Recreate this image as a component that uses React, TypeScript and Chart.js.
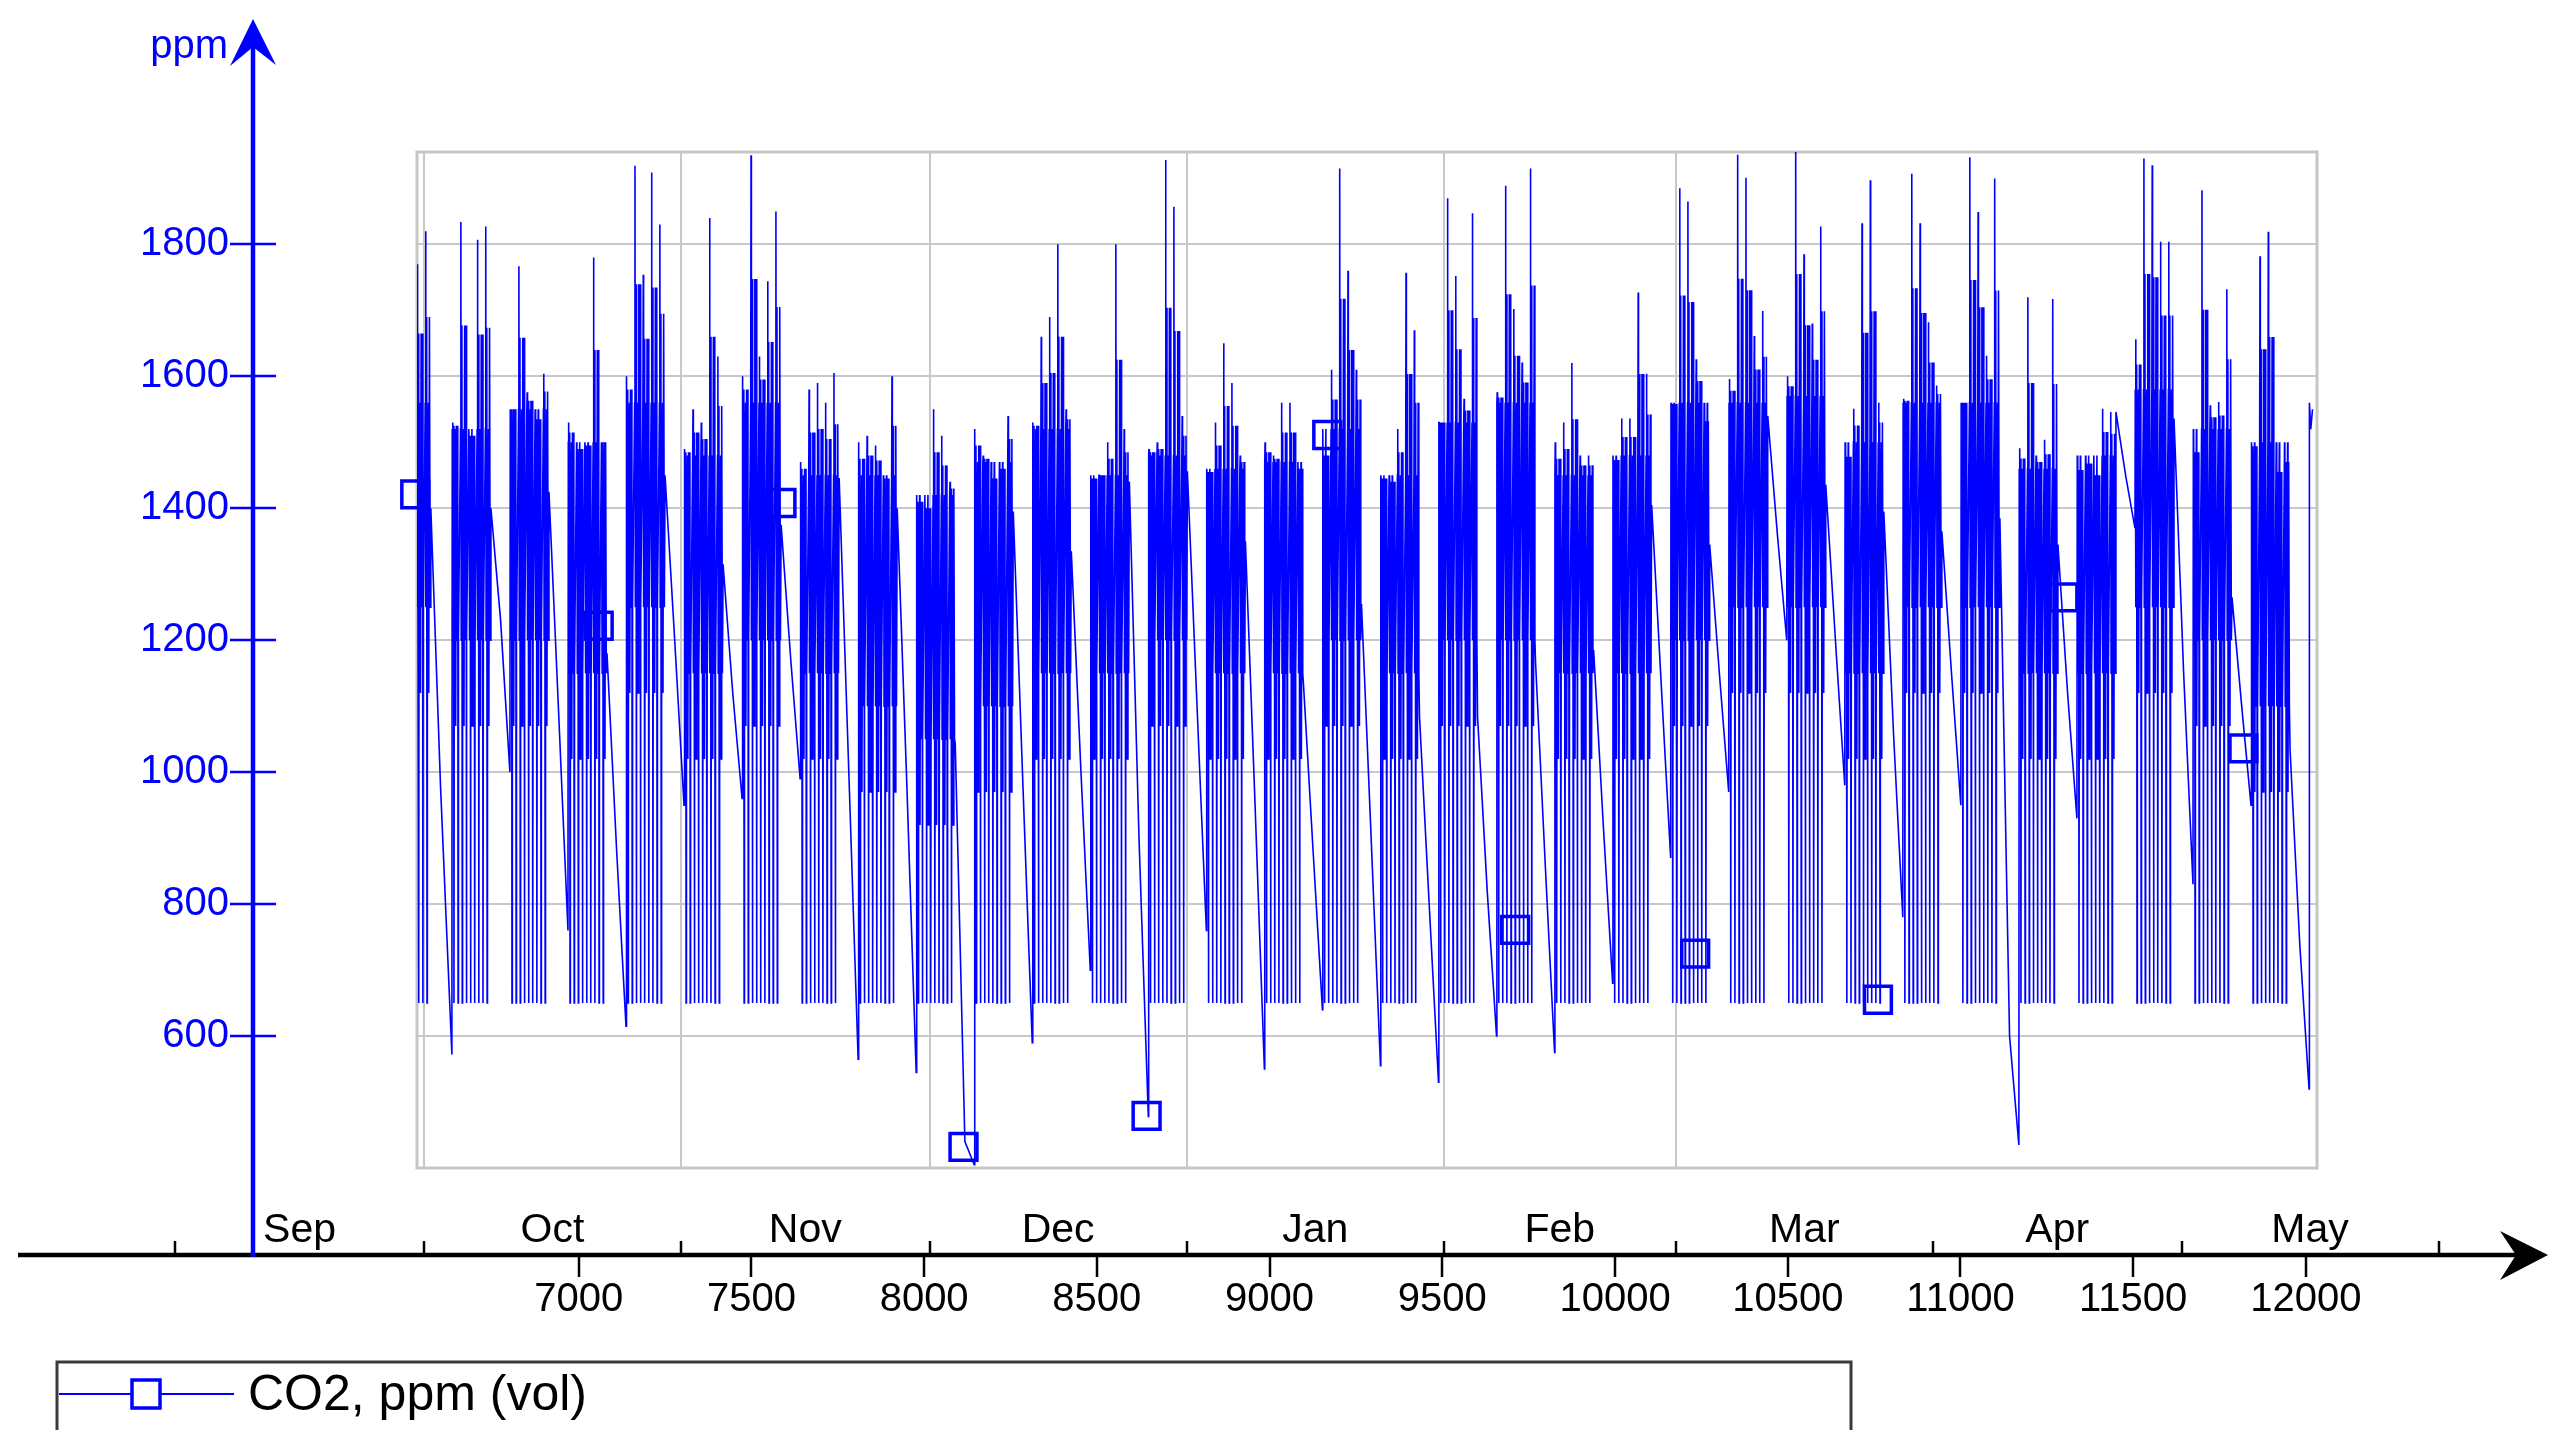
import React, { useEffect, useRef } from 'react';
import { Chart, registerables } from 'chart.js';

Chart.register(...registerables);

const FONT = '"Liberation Sans", Arial, Helvetica, sans-serif';
const BLUE = '#0000ff';

// ---------- calendar / axis data (hours from 1 January) ----------
const monthNames = ['Sep', 'Oct', 'Nov', 'Dec', 'Jan', 'Feb', 'Mar', 'Apr', 'May'];
const monthStartHours = [5832, 6552, 7296, 8016, 8760, 9504, 10176, 10920, 11640, 12384];
const gridMonthHours = [6552, 7296, 8016, 8760, 9504, 10176];
const xTickValues = [7000, 7500, 8000, 8500, 9000, 9500, 10000, 10500, 11000, 11500, 12000];
const yTickValues = [600, 800, 1000, 1200, 1400, 1600, 1800];
const xRange = [6532, 12032];
const yRange = [400, 1940];

// ---------- CO2 series data (ppm) ----------
const floorLevel = 650; // ventilated minimum reached on occupied days
const dipDepth = 130; // short dips go this far below the band low
const seriesStart = [6530, 700];
const leadInDayStart = 6532; // Thu 30 Sep, Fri 1 Oct
const leadInPeaks = [1770, 1820];
const firstWeekStart = 6634; // first Monday occupied block
const weekHours = 168;
// daily peaks Mon..Fri for each full week
const weekPeaks = [
  [1530, 1834, 1500, 1807, 1827],
  [1550, 1767, 1576, 1520, 1604],
  [1530, 1480, 1490, 1780, 1500],
  [1600, 1919, 1754, 1909, 1830],
  [1490, 1550, 1530, 1840, 1630],
  [1600, 1935, 1630, 1744, 1850],
  [1470, 1580, 1590, 1560, 1605],
  [1500, 1510, 1495, 1440, 1600],
  [1400, 1380, 1550, 1510, 1440],
  [1520, 1480, 1420, 1450, 1540],
  [1530, 1660, 1690, 1800, 1550],
  [1440, 1450, 1500, 1800, 1520],
  [1490, 1500, 1928, 1857, 1540],
  [1450, 1530, 1650, 1590, 1480],
  [1500, 1480, 1560, 1560, 1450],
  [1440, 1610, 1915, 1760, 1610],
  [1440, 1430, 1520, 1757, 1670],
  [1530, 1870, 1752, 1566, 1847],
  [1576, 1889, 1702, 1621, 1915],
  [1500, 1530, 1620, 1480, 1480],
  [1466, 1536, 1536, 1727, 1604],
  [1556, 1885, 1865, 1626, 1504],
  [1596, 1936, 1901, 1661, 1699],
  [1600, 1940, 1785, 1680, 1827],
  [1456, 1551, 1832, 1897, 1560],
  [1566, 1907, 1832, 1682, 1586],
  [1560, 1932, 1849, 1631, 1900],
  [1491, 1720, 1480, 1504, 1717],
  [1436, 1456, 1420, 1551, 1546],
  [1656, 1930, 1920, 1804, 1804],
  [1450, 1882, 1556, 1561, 1732],
  [1488, 1782, 1819, 1410, 1440],
];
// per week (lead-in first): top / bottom of the dense band
const bandTop = [1560, 1520, 1550, 1500, 1560, 1480, 1560, 1450, 1450, 1420, 1470, 1520, 1450, 1480, 1460, 1470, 1520,
  1450, 1530, 1560, 1450, 1480, 1560, 1560, 1570, 1500, 1560, 1560, 1460, 1480, 1580, 1520, 1500];
const bandLow = [1250, 1200, 1200, 1150, 1250, 1150, 1200, 1150, 1100, 1050, 1100, 1150, 1150, 1200, 1150, 1150, 1200,
  1150, 1200, 1200, 1150, 1150, 1200, 1250, 1250, 1150, 1250, 1250, 1150, 1150, 1250, 1200, 1100];
// weekend decay: start, middle, lowest value
const weekendStart = [1400, 1400, 1425, 1180, 1450, 1315, 1375, 1446, 1400, 1044, 1395, 1335, 1440, 1456, 1350, 1134, 1255,
  1084, 1084, 1165, 1185, 1405, 1345, 1540, 1436, 1395, 1365, 1385, 1345, 1546, 1536, 1265, 1034];
const weekendMid = [980, 1230, 1090, 880, 1200, 1120, 1170, 1000, 980, 440, 980, 1000, 900, 1100, 950, 880, 900,
  800, 820, 860, 920, 1130, 1150, 1360, 1200, 1060, 1150, 600, 1120, 1450, 1150, 1100, 740];
const weekendLow = [572, 1000, 760, 615, 950, 960, 990, 565, 545, 405, 590, 700, 478, 760, 550, 640, 555,
  530, 600, 575, 680, 870, 970, 1200, 980, 780, 950, 435, 930, 1370, 830, 950, 520];
const finalMonday = [[0, 1560], [4, 1520], [9, 1550]];
// hour offset within a day and which level is reached:
// T band top, P daily peak, Q between peak and band top, M middle of band, L band low, D dip, F floor
const dayPattern = [[0, 'T'], [1, 'P'], [2, 'L'], [4, 'Q'], [5, 'F'], [6, 'M'], [9, 'T'], [10, 'D'], [12, 'Q'],
  [14, 'L'], [16, 'Q'], [17, 'F'], [18, 'L'], [21, 'M']];

// markers drawn by the simulation tool on the curve
const markerHours = [6527, 7058, 7587, 8114, 8644, 9167, 9711, 10232, 10761, 11298, 11819];
const markerValues = [1421, 1222, 1408, 432, 479, 1511, 761, 725, 655, 1265, 1036];

const legendLabel = 'CO2, ppm (vol)';
const yUnit = 'ppm';

function buildSeries() {
  const pts: { x: number; y: number }[] = [{ x: seriesStart[0], y: seriesStart[1] }];
  const addDay = (t0: number, peak: number, top: number, low: number, until: number) => {
    for (const [off, kind] of dayPattern as [number, string][]) {
      if (off >= until) break;
      let y = floorLevel;
      if (kind === 'P') y = peak;
      else if (kind === 'T') y = top;
      else if (kind === 'Q') y = (top + peak) / 2;
      else if (kind === 'M') y = (top + low) / 2;
      else if (kind === 'L') y = low;
      else if (kind === 'D') y = low - dipDepth;
      pts.push({ x: t0 + off, y });
    }
  };
  const addWeekend = (t0: number, t1: number, i: number) => {
    pts.push({ x: t0, y: weekendStart[i] });
    pts.push({ x: t0 + 28, y: weekendMid[i] });
    pts.push({ x: t1, y: weekendLow[i] });
  };
  leadInPeaks.forEach((p, d) =>
    addDay(leadInDayStart + 24 * d, p, bandTop[0], bandLow[0], d === leadInPeaks.length - 1 ? 16 : 24));
  addWeekend(leadInDayStart + 24 * (leadInPeaks.length - 1) + 16, firstWeekStart - 1, 0);
  weekPeaks.forEach((days, w) => {
    const origin = firstWeekStart + weekHours * w;
    days.forEach((p, d) => addDay(origin + 24 * d, p, bandTop[w + 1], bandLow[w + 1], d === 4 ? 16 : 24));
    addWeekend(origin + 112, origin + weekHours - 1, w + 1);
  });
  const lastStart = firstWeekStart + weekHours * weekPeaks.length;
  finalMonday.forEach(([off, v]) => pts.push({ x: lastStart + off, y: v }));
  return pts;
}

const decorPlugin = {
  id: 'decor',
  beforeDatasetsDraw(chart: any) {
    const { ctx, chartArea: a } = chart;
    ctx.save();
    ctx.strokeStyle = '#c6c6c6';
    ctx.lineWidth = 3;
    ctx.strokeRect(a.left, a.top, a.right - a.left, a.bottom - a.top);
    ctx.restore();
  },
  afterDraw(chart: any) {
    const { ctx } = chart;
    const xs = chart.scales.x;
    const ys = chart.scales.y;
    const axX = 253;
    const axY = 1255;
    ctx.save();
    // horizontal (time) axis
    ctx.strokeStyle = '#000';
    ctx.fillStyle = '#000';
    ctx.lineWidth = 4.5;
    ctx.beginPath();
    ctx.moveTo(18, axY);
    ctx.lineTo(2522, axY);
    ctx.stroke();
    ctx.beginPath();
    ctx.moveTo(2548, axY);
    ctx.lineTo(2500, axY - 24);
    ctx.lineTo(2516, axY);
    ctx.lineTo(2500, axY + 25);
    ctx.closePath();
    ctx.fill();
    ctx.lineWidth = 2.5;
    monthStartHours.forEach((h) => {
      const px = Math.round(xs.getPixelForValue(h));
      ctx.beginPath();
      ctx.moveTo(px, axY);
      ctx.lineTo(px, axY - 14);
      ctx.stroke();
    });
    xTickValues.forEach((v) => {
      const px = Math.round(xs.getPixelForValue(v));
      ctx.beginPath();
      ctx.moveTo(px, axY);
      ctx.lineTo(px, axY + 22);
      ctx.stroke();
    });
    ctx.font = `41px ${FONT}`;
    ctx.textAlign = 'center';
    ctx.textBaseline = 'alphabetic';
    monthNames.forEach((m, i) => {
      const px = (xs.getPixelForValue(monthStartHours[i]) + xs.getPixelForValue(monthStartHours[i + 1])) / 2;
      ctx.fillText(m, px, 1242);
    });
    // vertical (ppm) axis
    ctx.strokeStyle = BLUE;
    ctx.fillStyle = BLUE;
    ctx.lineWidth = 4.5;
    ctx.beginPath();
    ctx.moveTo(axX, axY + 2);
    ctx.lineTo(axX, 40);
    ctx.stroke();
    ctx.beginPath();
    ctx.moveTo(axX, 19);
    ctx.lineTo(axX + 23, 65);
    ctx.lineTo(axX, 47);
    ctx.lineTo(axX - 23, 66);
    ctx.closePath();
    ctx.fill();
    ctx.lineWidth = 2.5;
    yTickValues.forEach((v) => {
      const py = Math.round(ys.getPixelForValue(v));
      ctx.beginPath();
      ctx.moveTo(axX - 23, py);
      ctx.lineTo(axX + 23, py);
      ctx.stroke();
    });
    ctx.font = `40px ${FONT}`;
    ctx.textAlign = 'right';
    ctx.fillText(yUnit, 228, 58);
    // legend
    ctx.strokeStyle = '#3a3a3a';
    ctx.lineWidth = 3;
    ctx.beginPath();
    ctx.moveTo(57, 1430);
    ctx.lineTo(57, 1362);
    ctx.lineTo(1851, 1362);
    ctx.lineTo(1851, 1430);
    ctx.stroke();
    ctx.strokeStyle = BLUE;
    ctx.lineWidth = 2;
    ctx.beginPath();
    ctx.moveTo(59, 1394);
    ctx.lineTo(234, 1394);
    ctx.stroke();
    ctx.lineWidth = 3.5;
    ctx.fillStyle = '#fff';
    ctx.fillRect(132, 1380, 28, 28);
    ctx.strokeRect(132, 1380, 28, 28);
    ctx.fillStyle = '#000';
    ctx.font = `50px ${FONT}`;
    ctx.textAlign = 'left';
    ctx.textBaseline = 'middle';
    ctx.fillText(legendLabel, 248, 1396);
    ctx.restore();
  },
};

export default function App() {
  const ref = useRef<HTMLCanvasElement | null>(null);
  useEffect(() => {
    document.body.style.margin = '0';
    document.body.style.overflow = 'hidden';
    const canvas = ref.current;
    if (!canvas) return;
    const series = buildSeries();
    const markers = markerHours.map((h, i) => ({ x: h, y: markerValues[i] }));
    const tickFont = { family: FONT, size: 40, lineHeight: 1 };
    const chart = new Chart(canvas, {
      type: 'line',
      data: {
        datasets: [
          {
            label: legendLabel,
            data: series,
            borderColor: BLUE,
            borderWidth: 1.6,
            pointRadius: 0,
            tension: 0,
            fill: false,
            order: 1,
          },
          {
            label: 'markers',
            data: markers,
            showLine: false,
            pointStyle: 'rect',
            pointRadius: 19,
            borderColor: BLUE,
            borderWidth: 3.5,
            backgroundColor: 'rgba(255,255,255,0)',
            clip: false,
            order: 0,
          },
        ],
      },
      options: {
        responsive: false,
        animation: false,
        devicePixelRatio: 1,
        events: [],
        layout: { padding: { left: 0, top: 152, right: 247, bottom: 78 } },
        plugins: { legend: { display: false }, tooltip: { enabled: false } },
        scales: {
          x: {
            type: 'linear',
            position: 'bottom',
            min: xRange[0],
            max: xRange[1],
            weight: 0,
            afterBuildTicks: (s: any) => {
              s.ticks = gridMonthHours.map((v) => ({ value: v }));
            },
            afterFit: (s: any) => {
              s.height = 0;
              s.paddingLeft = 0;
              s.paddingRight = 0;
            },
            grid: { color: '#c8c8c8', lineWidth: 2, drawTicks: false },
            border: { display: false },
            ticks: { display: false },
          },
          xn: {
            type: 'linear',
            position: 'bottom',
            min: xRange[0],
            max: xRange[1],
            weight: 1,
            afterBuildTicks: (s: any) => {
              s.ticks = xTickValues.map((v) => ({ value: v }));
            },
            afterFit: (s: any) => {
              s.height = 200;
              s.paddingLeft = 0;
              s.paddingRight = 0;
            },
            grid: { display: false, drawTicks: false },
            border: { display: false },
            ticks: {
              autoSkip: false,
              maxRotation: 0,
              padding: 112,
              color: '#000',
              font: tickFont,
              callback: (v: any) => String(v),
            },
          },
          y: {
            type: 'linear',
            position: 'left',
            min: yRange[0],
            max: yRange[1],
            afterBuildTicks: (s: any) => {
              s.ticks = yTickValues.map((v) => ({ value: v }));
            },
            afterFit: (s: any) => {
              s.width = 417;
              s.paddingTop = 0;
              s.paddingBottom = 0;
            },
            grid: { color: '#c8c8c8', lineWidth: 2, drawTicks: false },
            border: { display: false },
            ticks: {
              padding: 188,
              color: BLUE,
              font: tickFont,
              callback: (v: any) => String(v),
            },
          },
        },
      },
      plugins: [decorPlugin],
    } as any);
    return () => chart.destroy();
  }, []);
  return <canvas ref={ref} width={2564} height={1446} style={{ display: 'block' }} />;
}
